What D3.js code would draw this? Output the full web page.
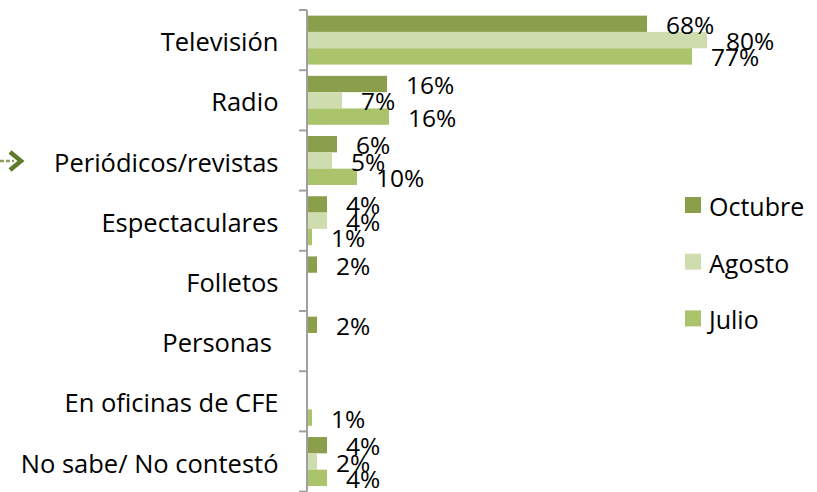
<!DOCTYPE html>
<html>
<head>
<meta charset="utf-8">
<script src="https://cdn.jsdelivr.net/npm/d3@7/dist/d3.min.js"></script>
<style>
  html, body { margin: 0; padding: 0; background: #ffffff; }
  svg { display: block; }
  text { font-family: "Open Sans", Lato, sans-serif; fill: #000; white-space: pre; }
</style>
</head>
<body>
<svg id="chart" width="817" height="492"></svg>
<script>
const categories = ["Televisión", "Radio", "Periódicos/revistas", "Espectaculares", "Folletos", "Personas ", "En oficinas de CFE", "No sabe/ No contestó"];
const seriesNames = ["Octubre", "Agosto", "Julio"];
const octubre = [68, 16, 6, 4, 2, 2, null, 4];
const agosto  = [80, 7, 5, 4, null, null, null, 2];
const julio   = [77, 16.4, 10, 1, null, null, 1, 4];
const seriesColors = ["#8a9e4b", "#cfddae", "#abc36b"];

const seriesValues = [octubre, agosto, julio];

const svg = d3.select("#chart");
const fsCat = 25.5, fsVal = 24.5, fsLeg = 25;

const x = d3.scaleLinear().domain([0, 100]).range([307, 807]);
const y = d3.scaleBand().domain(categories).range([10, 491.6]).paddingInner(0).paddingOuter(0);
const y1 = d3.scaleBand().domain(seriesNames).range([0, y.bandwidth()]).paddingInner(0).paddingOuter(0.345);

const rows = [];
categories.forEach((c, i) => {
  seriesNames.forEach((s, j) => {
    const v = seriesValues[j][i];
    if (v !== null && v !== undefined) rows.push({ cat: c, series: s, value: v, color: seriesColors[j] });
  });
});

// bars
svg.append("g").selectAll("rect").data(rows).join("rect")
  .attr("x", x(0))
  .attr("y", d => y(d.cat) + y1(d.series))
  .attr("width", d => x(d.value) - x(0))
  .attr("height", y1.bandwidth())
  .attr("fill", d => d.color);

// axis (category axis on the left, ticks between categories)
const axisG = svg.append("g").attr("transform", `translate(${x(0)},0)`);
axisG.append("line")
  .attr("x1", 0).attr("x2", 0)
  .attr("y1", y.range()[0]).attr("y2", y.range()[1])
  .attr("stroke", "#a0a0a0").attr("stroke-width", 2);
const tickYs = categories.map(c => y(c)).concat([y.range()[1]]);
axisG.selectAll("line.tick").data(tickYs).join("line")
  .attr("class", "tick")
  .attr("x1", -8).attr("x2", 0)
  .attr("y1", d => d).attr("y2", d => d)
  .attr("stroke", "#a0a0a0").attr("stroke-width", 2);

// category labels
svg.append("g").selectAll("text").data(categories).join("text")
  .attr("x", 278.5)
  .attr("y", d => y(d) + y.bandwidth() / 2 + 11)
  .attr("text-anchor", "end")
  .attr("font-size", fsCat)
  .text(d => d);

// value labels
svg.append("g").selectAll("text").data(rows).join("text")
  .attr("x", d => x(d.value) + 19)
  .attr("y", d => y(d.cat) + y1(d.series) + y1.bandwidth() / 2 + 10)
  .attr("font-size", fsVal)
  .text(d => Math.round(d.value) + "%");

// legend
const legend = svg.append("g").attr("transform", "translate(685,197)");
seriesNames.forEach((s, j) => {
  const g = legend.append("g").attr("transform", `translate(0,${j * 56.7})`);
  g.append("rect").attr("width", 16).attr("height", 16).attr("fill", seriesColors[j]);
  g.append("text").attr("x", 24).attr("y", 19).attr("font-size", fsLeg).text(s);
});

// arrow marker next to the highlighted category
const ay = y("Periódicos/revistas") + y.bandwidth() / 2 + 0.5;
const arrow = svg.append("g").attr("fill", "none");
arrow.append("line").attr("x1", 0).attr("x2", 14).attr("y1", ay).attr("y2", ay)
  .attr("stroke", "#8aa05a").attr("stroke-width", 2.5).attr("stroke-dasharray", "4,2");
arrow.append("path")
  .attr("d", `M10,${ay - 9} L21,${ay} L10,${ay + 9}`)
  .attr("stroke", "#5f7a2a").attr("stroke-width", 4.5).attr("stroke-linejoin", "miter");
</script>
</body>
</html>
